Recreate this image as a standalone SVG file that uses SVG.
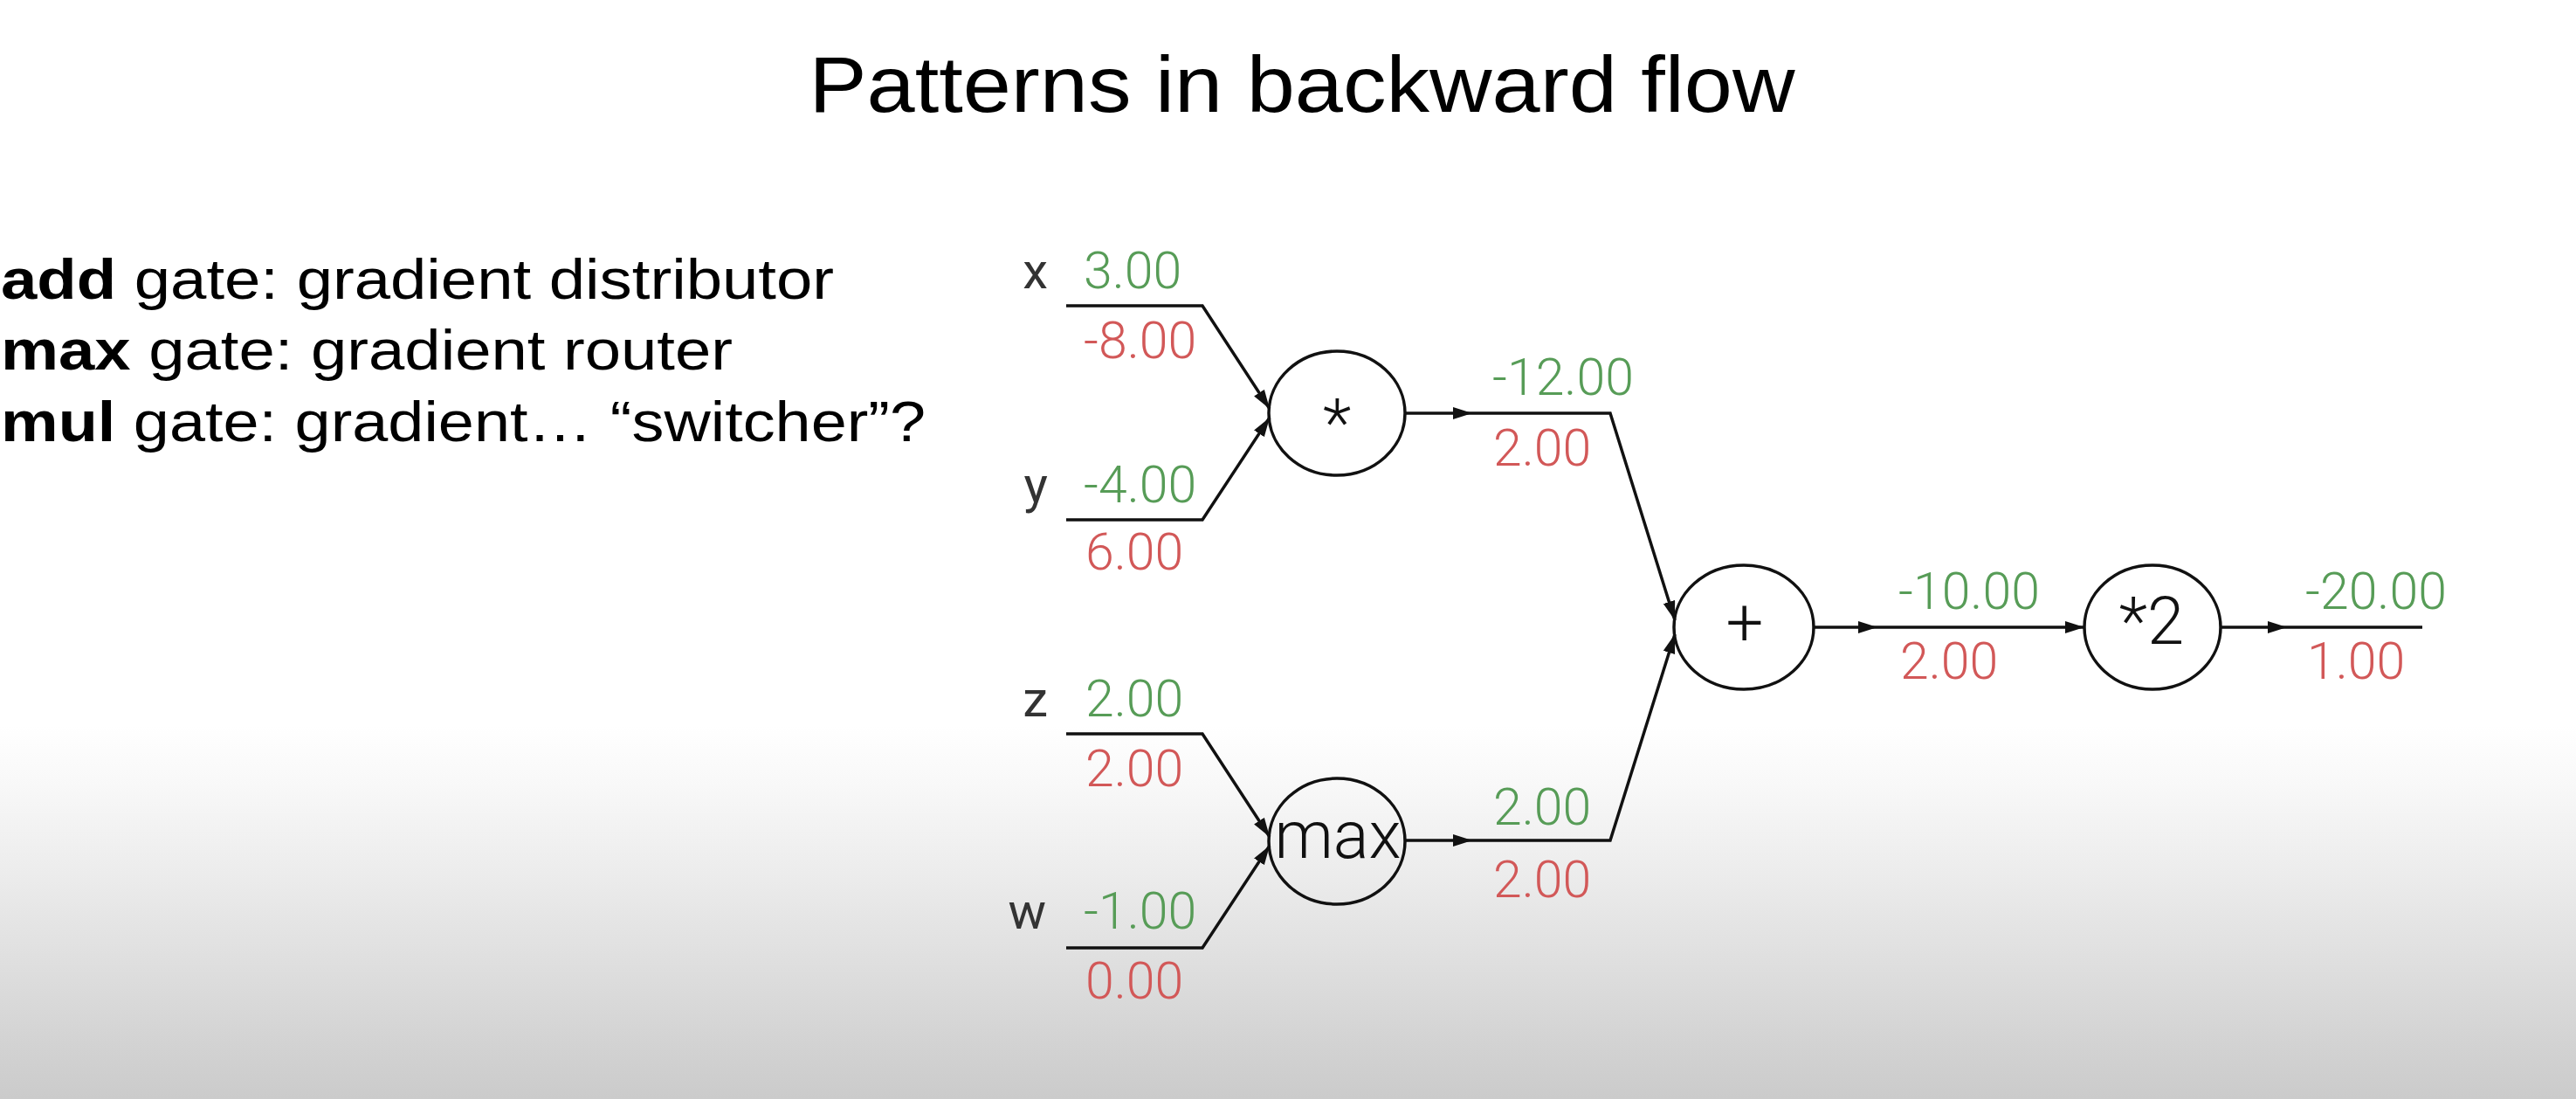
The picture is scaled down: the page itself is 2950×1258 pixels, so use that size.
<svg xmlns="http://www.w3.org/2000/svg" width="2950" height="1258" viewBox="0 0 2950 1258">
  <defs>
    <linearGradient id="bg" x1="0" y1="0" x2="0" y2="1258" gradientUnits="userSpaceOnUse">
      <stop offset="0" stop-color="#ffffff"/>
      <stop offset="0.66" stop-color="#ffffff"/>
      <stop offset="0.715" stop-color="#f8f8f8"/>
      <stop offset="0.795" stop-color="#ececec"/>
      <stop offset="0.874" stop-color="#dfdfdf"/>
      <stop offset="0.954" stop-color="#d2d2d2"/>
      <stop offset="1" stop-color="#cbcbcb"/>
    </linearGradient>
    <marker id="arr" markerUnits="userSpaceOnUse" markerWidth="24" markerHeight="16" refX="22" refY="7" orient="auto">
      <path d="M0,0 L22,7 L0,14 Z" fill="#111"/>
    </marker>
    <style>
      .title { font-family: "Liberation Sans", Arial, sans-serif; font-size: 91px; fill: #000; }
      .side { font-family: "Liberation Sans", Arial, sans-serif; font-size: 65px; fill: #000; }
      .side .b { font-weight: bold; }
      .var { font-family: Roboto, "Liberation Sans", sans-serif; font-size: 58px; fill: #333; text-anchor: end; }
      .val { font-family: Roboto, "Liberation Sans", sans-serif; font-size: 59px; font-weight: 300; }
      .g { fill: #579c57; }
      .r { fill: #d25858; }
      .node ellipse { fill: none; stroke: #111; stroke-width: 3.5; }
      .node text { font-family: Roboto, "Liberation Sans", sans-serif; font-size: 76px; font-weight: 300; fill: #111; text-anchor: middle; }
      .conn path { fill: none; stroke: #111; stroke-width: 3.5; }
      .conn .a { marker-end: url(#arr); }
    </style>
  </defs>
  <rect x="0" y="0" width="2950" height="1258" fill="url(#bg)"/>

  <text class="title" x="1491" y="128" text-anchor="middle" textLength="1129" lengthAdjust="spacingAndGlyphs">Patterns in backward flow</text>

  <g id="notes">
    <text class="side" x="1" y="342" textLength="954" lengthAdjust="spacingAndGlyphs"><tspan class="b">add</tspan> gate: gradient distributor</text>
    <text class="side" x="1" y="423" textLength="838" lengthAdjust="spacingAndGlyphs"><tspan class="b">max</tspan> gate: gradient router</text>
    <text class="side" x="1" y="505" textLength="1059" lengthAdjust="spacingAndGlyphs"><tspan class="b">mul</tspan> gate: gradient… “switcher”?</text>
  </g>

  <g id="connectors" class="conn">
    <path class="a" d="M1221,350 L1377,350 L1454,468"/>
    <path class="a" d="M1221,595 L1377,595 L1454,478"/>
    <path class="a" d="M1221,840 L1377,840 L1454,958"/>
    <path class="a" d="M1221,1085 L1377,1085 L1454,968"/>
    <path class="a" d="M1609,473 L1686,473"/>
    <path class="a" d="M1686,473 L1844,473 L1918,710"/>
    <path class="a" d="M1609,962 L1686,962"/>
    <path class="a" d="M1686,962 L1844,962 L1918,726"/>
    <path class="a" d="M2077,718 L2150,718"/>
    <path class="a" d="M2150,718 L2387,718"/>
    <path class="a" d="M2542,718 L2619,718"/>
    <path d="M2619,718 L2774,718"/>
  </g>

  <g id="input-x">
    <text class="var" x="1200" y="330">x</text>
    <text class="val g" x="1241" y="330">3.00</text>
    <text class="val r" x="1241" y="410">-8.00</text>
  </g>
  <g id="input-y">
    <text class="var" x="1200" y="575">y</text>
    <text class="val g" x="1241" y="575">-4.00</text>
    <text class="val r" x="1243" y="652">6.00</text>
  </g>
  <g id="input-z">
    <text class="var" x="1200" y="820">z</text>
    <text class="val g" x="1243" y="820">2.00</text>
    <text class="val r" x="1243" y="900">2.00</text>
  </g>
  <g id="input-w">
    <text class="var" x="1198" y="1063">w</text>
    <text class="val g" x="1241" y="1063">-1.00</text>
    <text class="val r" x="1243" y="1143">0.00</text>
  </g>

  <g id="node-mul" class="node">
    <ellipse cx="1531" cy="473" rx="78" ry="71"/>
    <text x="1531" y="510">*</text>
  </g>
  <g id="node-max" class="node">
    <ellipse cx="1531" cy="963" rx="78" ry="72"/>
    <text x="1532" y="982">max</text>
  </g>
  <g id="node-add" class="node">
    <ellipse cx="1997" cy="718" rx="80" ry="71"/>
    <text x="1998" y="738">+</text>
  </g>
  <g id="node-times2" class="node">
    <ellipse cx="2465" cy="718" rx="78" ry="71"/>
    <text x="2464" y="737">*2</text>
  </g>

  <g id="edge-values">
    <text class="val g" x="1709" y="452">-12.00</text>
    <text class="val r" x="1710" y="533">2.00</text>
    <text class="val g" x="1710" y="944">2.00</text>
    <text class="val r" x="1710" y="1027">2.00</text>
    <text class="val g" x="2174" y="697">-10.00</text>
    <text class="val r" x="2176" y="777">2.00</text>
    <text class="val g" x="2640" y="697">-20.00</text>
    <text class="val r" x="2642" y="777">1.00</text>
  </g>
</svg>
